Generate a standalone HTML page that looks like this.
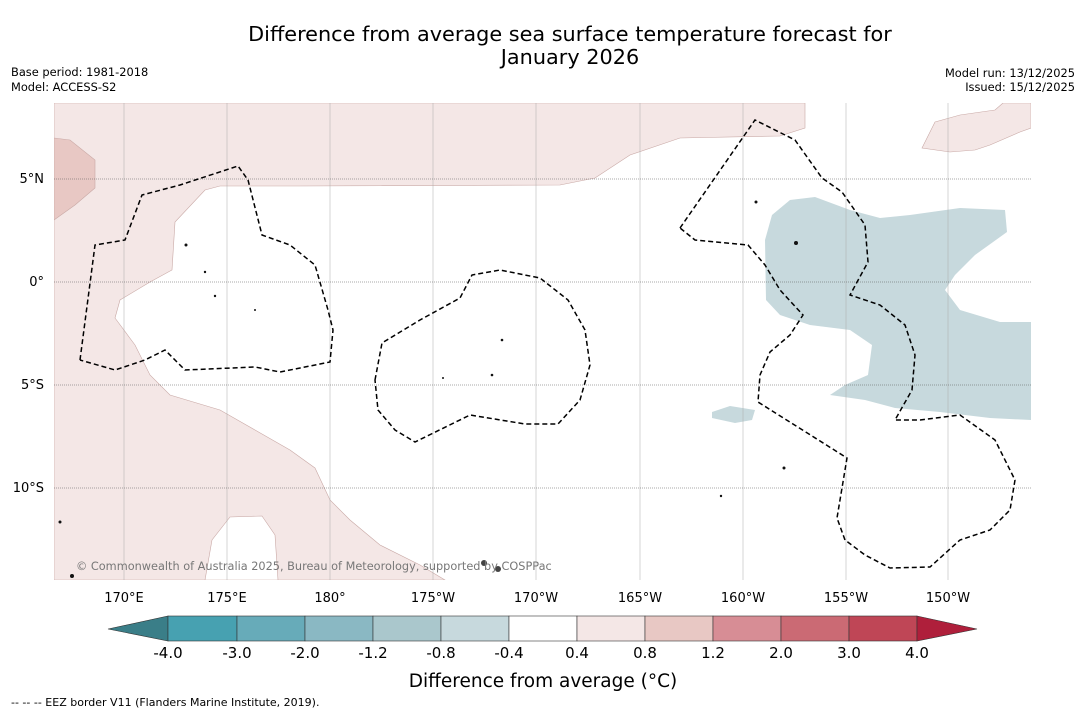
<!DOCTYPE html>
<html><head><meta charset="utf-8"><style>
body{margin:0;background:#fff;width:1085px;height:713px;overflow:hidden;font-family:"DejaVu Sans","Liberation Sans",sans-serif}
</style></head><body>
<svg width="1085" height="713" xmlns="http://www.w3.org/2000/svg" font-family="DejaVu Sans, Liberation Sans, sans-serif">
<rect width="1085" height="713" fill="#fff"/>
<text x="570" y="41" font-size="20.8" text-anchor="middle">Difference from average sea surface temperature forecast for</text>
<text x="570" y="64" font-size="20.8" text-anchor="middle">January 2026</text>
<text x="11" y="76" font-size="11.4">Base period: 1981-2018</text>
<text x="11" y="91" font-size="11.4">Model: ACCESS-S2</text>
<text x="1075" y="77" font-size="11.4" text-anchor="end">Model run: 13/12/2025</text>
<text x="1075" y="91" font-size="11.4" text-anchor="end">Issued: 15/12/2025</text>
<defs><clipPath id="c"><rect x="54" y="103" width="977" height="477"/></clipPath></defs>
<g clip-path="url(#c)">
<rect x="54" y="103" width="977" height="477" fill="#fff"/>
<path d="M54 103 L805 103 L805 128 L780 136 L680 138 L630 155 L595 178 L560 185 L300 186 L220 186 L205 190 L175 222 L172 270 L150 282 L120 300 L115 318 L135 345 L150 375 L170 395 L220 410 L255 430 L290 450 L315 468 L330 500 L350 520 L380 545 L420 565 L445 580 L54 580 Z" fill="#f4e7e6" stroke="#c9a9a6" stroke-width="0.6"/>
<path d="M230 517 L262 516 L275 535 L278 580 L205 580 L212 540 Z" fill="#fff" stroke="#c9a9a6" stroke-width="0.6"/>
<path d="M54 138 L70 140 L95 160 L95 188 L75 205 L54 220 Z" fill="#e8c8c4" stroke="#c9a9a6" stroke-width="0.6"/>
<path d="M1031 103 L1031 128 L1020 132 L990 145 L975 150 L950 152 L922 148 L935 122 L960 115 L995 110 L1003 103 Z" fill="#f4e7e6" stroke="#c9a9a6" stroke-width="0.6"/>
<path d="M790 200 L815 197 L850 210 L880 218 L910 215 L960 208 L1005 210 L1007 232 L975 255 L955 275 L945 290 L960 310 L1000 322 L1031 322 L1031 420 L990 418 L940 412 L895 408 L865 400 L830 395 L845 385 L868 375 L872 345 L850 330 L810 325 L780 315 L766 300 L765 240 L772 215 Z" fill="#c7d9dd"/>
<path d="M712 412 L730 406 L755 410 L752 420 L735 423 L712 418 Z" fill="#c7d9dd"/>
<g stroke="#aaa" stroke-width="0.5">
<line x1="124" y1="103" x2="124" y2="580"/><line x1="227" y1="103" x2="227" y2="580"/><line x1="330" y1="103" x2="330" y2="580"/><line x1="433" y1="103" x2="433" y2="580"/><line x1="536" y1="103" x2="536" y2="580"/><line x1="640" y1="103" x2="640" y2="580"/><line x1="743" y1="103" x2="743" y2="580"/><line x1="846" y1="103" x2="846" y2="580"/><line x1="948" y1="103" x2="948" y2="580"/>
</g>
<g stroke="#555" stroke-width="0.5" stroke-dasharray="1,1">
<line x1="54" y1="179" x2="1031" y2="179"/><line x1="54" y1="282" x2="1031" y2="282"/><line x1="54" y1="385" x2="1031" y2="385"/><line x1="54" y1="488" x2="1031" y2="488"/>
</g>
<g fill="none" stroke="#000" stroke-width="1.5" stroke-dasharray="5,3">
<path d="M80 360 L95 245 L125 240 L142 195 L180 185 L238 166 L248 180 L262 235 L290 245 L315 265 L328 310 L333 330 L330 362 L280 372 L255 367 L185 370 L165 350 L145 360 L115 370 L80 360"/>
<path d="M375 380 L382 343 L420 320 L460 298 L472 275 L500 270 L540 278 L568 300 L585 330 L590 365 L580 400 L558 424 L525 424 L470 415 L415 442 L395 430 L378 410 Z"/>
<path d="M680 228 L755 120 L795 140 L822 178 L842 192 L865 225 L868 262 L850 295 L880 305 L905 325 L915 355 L912 390 L895 420 L920 420 L960 415 L995 440 L1015 480 L1010 510 L990 530 L960 540 L930 567 L890 568 L865 555 L845 540 L837 518 L847 458 L758 402 L760 375 L770 352 L790 335 L803 315 L780 290 L765 265 L748 245 L695 240 Z"/>
</g>
<g fill="#111">
<circle cx="186" cy="245" r="1.5"/><circle cx="205" cy="272" r="1.2"/><circle cx="215" cy="296" r="1.2"/><circle cx="255" cy="310" r="1"/><circle cx="502" cy="340" r="1.3"/><circle cx="443" cy="378" r="1"/><circle cx="492" cy="375" r="1.3"/><circle cx="756" cy="202" r="1.5"/><circle cx="796" cy="243" r="2"/><circle cx="784" cy="468" r="1.5"/><circle cx="721" cy="496" r="1.2"/><circle cx="484" cy="563" r="3" fill="#444"/><circle cx="498" cy="569" r="3" fill="#444"/><circle cx="72" cy="576" r="2"/><circle cx="60" cy="522" r="1.5"/>
</g>
</g>
<text x="76" y="570" font-size="11.3" fill="#777">© Commonwealth of Australia 2025, Bureau of Meteorology, supported by COSPPac</text>
<text x="44" y="183" font-size="13" text-anchor="end">5°N</text>
<text x="44" y="286" font-size="13" text-anchor="end">0°</text>
<text x="44" y="389" font-size="13" text-anchor="end">5°S</text>
<text x="44" y="492" font-size="13" text-anchor="end">10°S</text>
<g font-size="13" text-anchor="middle">
<text x="124" y="602">170°E</text><text x="227" y="602">175°E</text><text x="330" y="602">180°</text><text x="433" y="602">175°W</text><text x="536" y="602">170°W</text><text x="640" y="602">165°W</text><text x="743" y="602">160°W</text><text x="846" y="602">155°W</text><text x="948" y="602">150°W</text>
</g>
<g stroke="#333" stroke-width="0.6">
<path d="M108 629 L168 616 L168 641 Z" fill="#3a7e88"/>
<rect x="168" y="616" width="69" height="25" fill="#47a1b1"/>
<rect x="237" y="616" width="68" height="25" fill="#67abb9"/>
<rect x="305" y="616" width="68" height="25" fill="#8ab8c3"/>
<rect x="373" y="616" width="68" height="25" fill="#aac7cc"/>
<rect x="441" y="616" width="68" height="25" fill="#c7d9dd"/>
<rect x="509" y="616" width="68" height="25" fill="#ffffff"/>
<rect x="577" y="616" width="68" height="25" fill="#f4e7e6"/>
<rect x="645" y="616" width="68" height="25" fill="#e8c8c4"/>
<rect x="713" y="616" width="68" height="25" fill="#d78d95"/>
<rect x="781" y="616" width="68" height="25" fill="#cb6a74"/>
<rect x="849" y="616" width="68" height="25" fill="#bf4656"/>
<path d="M917 616 L977 629 L917 641 Z" fill="#af1f3b"/>
</g>
<g font-size="15" text-anchor="middle">
<text x="168" y="658">-4.0</text><text x="237" y="658">-3.0</text><text x="305" y="658">-2.0</text><text x="373" y="658">-1.2</text><text x="441" y="658">-0.8</text><text x="509" y="658">-0.4</text><text x="577" y="658">0.4</text><text x="645" y="658">0.8</text><text x="713" y="658">1.2</text><text x="781" y="658">2.0</text><text x="849" y="658">3.0</text><text x="917" y="658">4.0</text>
</g>
<text x="543" y="687" font-size="18.5" text-anchor="middle">Difference from average (°C)</text>
<text x="11" y="706" font-size="11">--  --  -- EEZ border V11 (Flanders Marine Institute, 2019).</text>
</svg>
</body></html>
